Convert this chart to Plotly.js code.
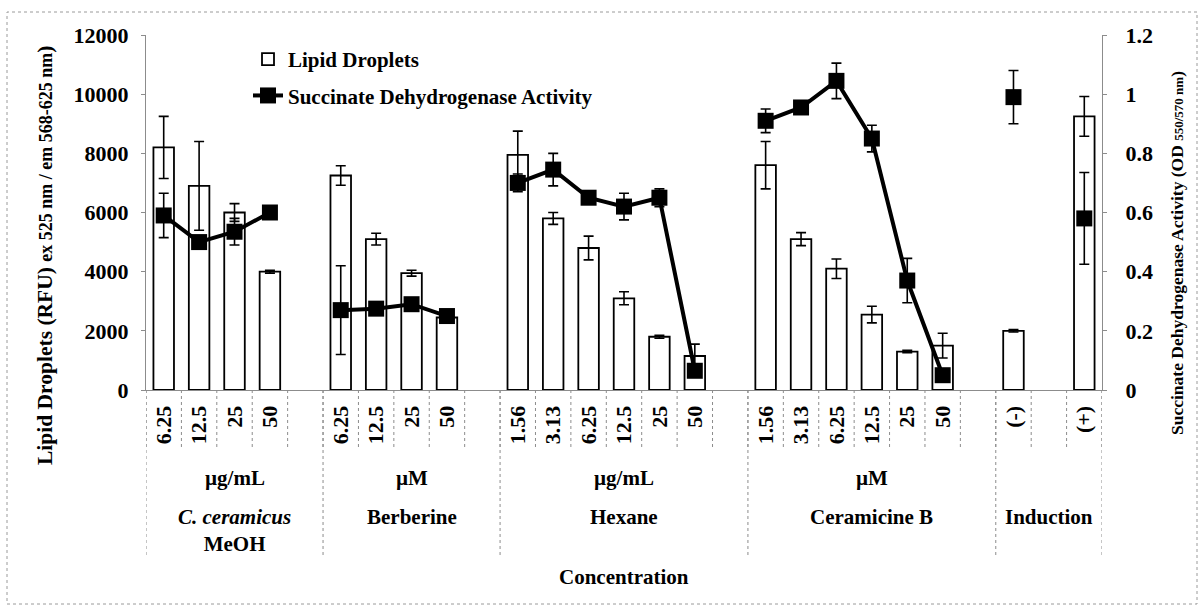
<!DOCTYPE html>
<html>
<head>
<meta charset="utf-8">
<script src="https://cdn.plot.ly/plotly-3.0.1.min.js"></script>
<style>html,body{margin:0;padding:0;background:#fff;}#chart{width:1203px;height:609px;}</style>
</head>
<body>
<div id="chart"></div>
<script>
// ---- data ----
const slotLabels = ['6.25','12.5','25','50','',
                    '6.25','12.5','25','50','',
                    '1.56','3.13','6.25','12.5','25','50','',
                    '1.56','3.13','6.25','12.5','25','50','',
                    '(-)','','(+)'];
const groupNames = ['<i>C. ceramicus</i><br>MeOH','Berberine','Hexane','Ceramicine B','Induction'];
const groupUnits = ['µg/mL','µM','µg/mL','µM',''];
const groupSizes = [5,5,7,7,3];
const leftTicks  = [0,2000,4000,6000,8000,10000,12000];
const rightTicks = [0,0.2,0.4,0.6,0.8,1,1.2];

const lipid    = [8200,6900,6000,4000,null, 7250,5100,3950,2450,null, 7950,5800,4800,3100,1800,1150,null, 7600,5100,4100,2550,1300,1500,null, 2000,null,9250];
const lipidErr = [1050,1500,300,50,null, 330,200,100,50,null, 800,200,400,220,50,400,null, 800,220,330,280,40,420,null, 40,null,670];
const sdh      = [0.59,0.50,0.535,0.60,null, 0.27,0.275,0.29,0.25,null, 0.70,0.745,0.65,0.62,0.65,0.065,null, 0.91,0.955,1.045,0.85,0.37,0.05,null, 0.99,null,0.58];
const sdhErr   = [0.075,0.02,0.045,0.01,null, 0.15,0.02,0.02,0.02,null, 0.03,0.055,0.02,0.045,0.03,0.02,null, 0.04,0.02,0.06,0.045,0.075,0.02,null, 0.09,null,0.155];

const xIdx = slotLabels.map((_, i) => i);
const labelledIdx = xIdx.filter(i => slotLabels[i] !== '');
const FONT = 'Liberation Serif, Times New Roman, serif';
const GRID = '#8c8c8c';
const B = s => '<b>' + s + '</b>';

const traces = [
  {
    type: 'bar', name: B('Lipid Droplets'), x: xIdx, y: lipid,
    marker: {color: '#ffffff', line: {color: '#000', width: 1.8}},
    error_y: {type: 'data', array: lipidErr, visible: true, color: '#000', thickness: 1.6, width: 5},
    legendgroup: 'a'
  },
  {
    type: 'scatter', mode: 'lines+markers', name: B('Succinate Dehydrogenase Activity'),
    x: xIdx, y: sdh, yaxis: 'y2', connectgaps: false,
    line: {color: '#000', width: 4},
    marker: {symbol: 'square', size: 16, color: '#000'},
    error_y: {type: 'data', array: sdhErr, visible: true, color: '#000', thickness: 1.6, width: 5},
    legendgroup: 'b'
  }
];

// ---- layout helpers ----
const plotTopPx = 35, plotBotPx = 390, plotLeftPx = 146, plotRightPx = 1102;
const ph = plotBotPx - plotTopPx, pw = plotRightPx - plotLeftPx;
const pyOf = px => (plotBotPx - px) / ph;
const pxOf = px => (px - plotLeftPx) / pw;
const textFont = {family: FONT, size: 21, color: '#000'};
const tickFont = {family: FONT, size: 22, color: '#000'};

const shapes = [];
const annotations = [];
// slot separators
for (let i = 0; i <= slotLabels.length; i++) {
  shapes.push({type: 'line', xref: 'x', yref: 'paper', x0: i - 0.5, x1: i - 0.5, y0: 0, y1: pyOf(448),
    line: {color: GRID, width: 1, dash: 'dot'}});
}
// group separators and labels
let start = 0;
groupSizes.forEach((n, g) => {
  shapes.push({type: 'line', xref: 'x', yref: 'paper', x0: start - 0.5, x1: start - 0.5, y0: 0, y1: pyOf(558),
    line: {color: GRID, width: 1, dash: 'dot'}});
  const cx = start + n / 2 - 0.5;
  if (groupUnits[g]) {
    annotations.push({xref: 'x', yref: 'paper', x: cx, y: pyOf(478), text: B(groupUnits[g]), showarrow: false,
      xanchor: 'center', yanchor: 'middle', font: textFont});
  }
  annotations.push({xref: 'x', yref: 'paper', x: cx, y: pyOf(503), text: B(groupNames[g]), showarrow: false,
    xanchor: 'center', yanchor: 'top', font: textFont});
  start += n;
});
shapes.push({type: 'line', xref: 'x', yref: 'paper', x0: start - 0.5, x1: start - 0.5, y0: 0, y1: pyOf(558),
  line: {color: GRID, width: 1, dash: 'dot'}});
// outer frame
shapes.push({type: 'rect', xref: 'paper', yref: 'paper', x0: pxOf(7), x1: pxOf(1197), y0: pyOf(604), y1: pyOf(12),
  line: {color: '#9a9a9a', width: 1, dash: 'dot'}});

annotations.push({xref: 'paper', yref: 'paper', x: 0.5, y: pyOf(577), text: B('Concentration'), showarrow: false,
  xanchor: 'center', yanchor: 'middle', font: textFont});
annotations.push({xref: 'paper', yref: 'paper', x: pxOf(45), y: pyOf(256), textangle: -90,
  text: B('Lipid Droplets (RFU) <span style="font-size:18px">ex 525 nm / em 568-625 nm</span>)'), showarrow: false,
  xanchor: 'center', yanchor: 'middle', font: {family: FONT, size: 21.5, color: '#000'}});
annotations.push({xref: 'paper', yref: 'paper', x: pxOf(1177), y: pyOf(253), textangle: -90,
  text: B('Succinate Dehydrogenase Activity (OD <span style="font-size:13px">550/570 nm</span>)'), showarrow: false,
  xanchor: 'center', yanchor: 'middle', font: {family: FONT, size: 17.5, color: '#000'}});

const layout = {
  width: 1203, height: 609,
  margin: {l: plotLeftPx, r: 1203 - plotRightPx, t: plotTopPx, b: 609 - plotBotPx, pad: 0},
  paper_bgcolor: '#fff', plot_bgcolor: '#fff',
  bargap: 0.42,
  showlegend: true,
  legend: {x: pxOf(248), y: pyOf(39), xanchor: 'left', yanchor: 'top', bgcolor: 'rgba(0,0,0,0)',
    font: textFont, tracegroupgap: 6, traceorder: 'grouped'},
  xaxis: {
    range: [-0.5, slotLabels.length - 0.5], tickmode: 'array', tickvals: labelledIdx,
    ticktext: labelledIdx.map(i => B(slotLabels[i])),
    tickangle: -90, ticks: '', showgrid: false, zeroline: false, showline: true, linecolor: GRID, linewidth: 1,
    tickfont: tickFont, ticklabelstandoff: 6
  },
  yaxis: {
    range: [0, 12000], tickmode: 'array', tickvals: leftTicks, ticktext: leftTicks.map(v => B(String(v))),
    showgrid: false, zeroline: false, showline: true,
    linecolor: GRID, linewidth: 1, ticks: 'outside', ticklen: 4, tickcolor: GRID,
    tickfont: tickFont, ticklabelstandoff: 8
  },
  yaxis2: {
    range: [0, 1.2], tickmode: 'array', tickvals: rightTicks, ticktext: rightTicks.map(v => B(String(v))),
    overlaying: 'y', side: 'right', showgrid: false, zeroline: false,
    showline: true, linecolor: GRID, linewidth: 1, ticks: 'outside', ticklen: 4, tickcolor: GRID,
    tickfont: tickFont, ticklabelstandoff: 14
  },
  shapes: shapes,
  annotations: annotations
};

Plotly.newPlot('chart', traces, layout, {displayModeBar: false, staticPlot: true});
</script>
</body>
</html>
